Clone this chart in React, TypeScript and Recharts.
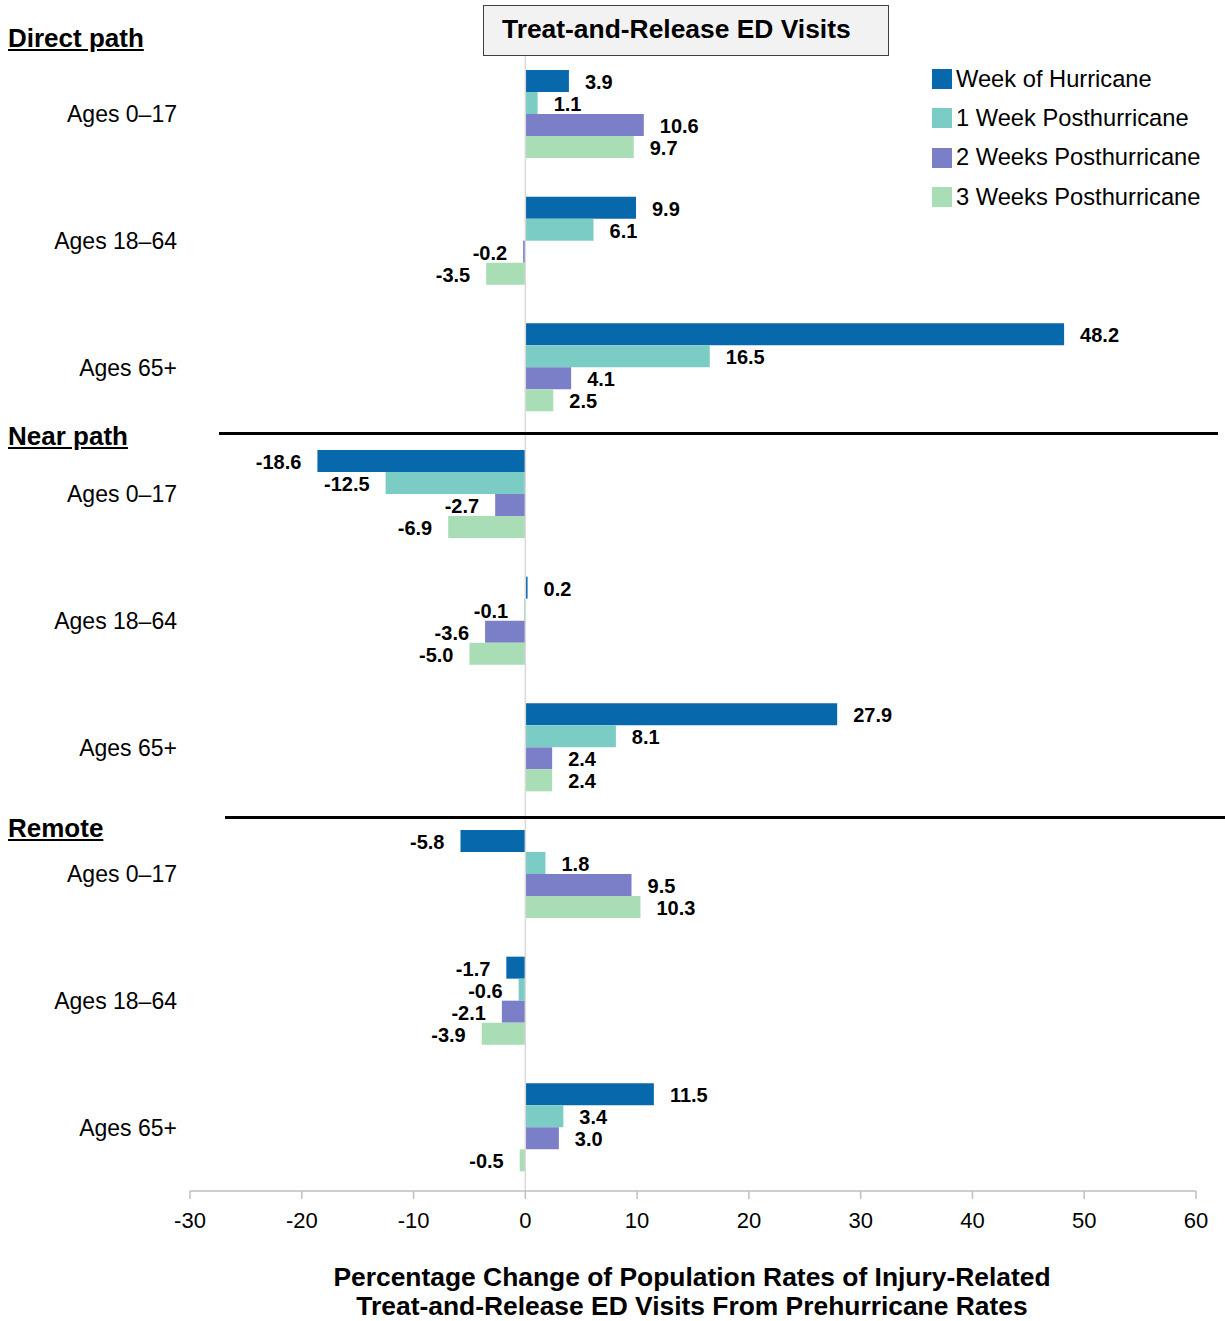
import React from "react";
import {
  BarChart,
  Bar,
  XAxis,
  YAxis,
  ReferenceLine,
  LabelList,
} from "recharts";

const FONT = "'Liberation Sans', Arial, sans-serif";

const groups = ["Direct path", "Near path", "Remote"];
const ages = ["Ages 0\u201317", "Ages 18\u201364", "Ages 65+"];
const seriesNames = [
  "Week of Hurricane",
  "1 Week Posthurricane",
  "2 Weeks Posthurricane",
  "3 Weeks Posthurricane",
];
const seriesColors = ["#0868AC", "#7BCCC4", "#7B7FC7", "#A8DDB5"];
const xTicks = [-30, -20, -10, 0, 10, 20, 30, 40, 50, 60];

// values per category in order: Direct 0–17, 18–64, 65+, Near ..., Remote ...
const weekOf = [3.9, 9.9, 48.2, -18.6, 0.2, 27.9, -5.8, -1.7, 11.5];
const week1 = [1.1, 6.1, 16.5, -12.5, -0.1, 8.1, 1.8, -0.6, 3.4];
const week2 = [10.6, -0.2, 4.1, -2.7, -3.6, 2.4, 9.5, -2.1, 3.0];
const week3 = [9.7, -3.5, 2.5, -6.9, -5.0, 2.4, 10.3, -3.9, -0.5];

const seriesValues = [weekOf, week1, week2, week3];
const seriesKeys = ["s0", "s1", "s2", "s3"];

const data = groups.flatMap((g, gi) =>
  ages.map((a, ai) => {
    const idx = gi * 3 + ai;
    const row: any = { id: `${g}|${a}`, age: a };
    seriesKeys.forEach((k, si) => {
      row[k] = seriesValues[si][idx];
    });
    return row;
  })
);

const renderValueLabel = (props: any) => {
  const { x, y, width, height, value } = props;
  if (value === undefined || value === null) return null;
  const v = Number(value);
  const left = Math.min(x, x + width);
  const right = Math.max(x, x + width);
  const cy = y + height / 2;
  const pos = v >= 0;
  return (
    <text
      x={pos ? right + 16 : left - 16}
      y={cy + 1}
      textAnchor={pos ? "start" : "end"}
      dominantBaseline="central"
      fontFamily={FONT}
      fontWeight="bold"
      fontSize={20}
      fill="#000"
    >
      {v.toFixed(1)}
    </text>
  );
};

const YTick = (props: any) => {
  const { y, payload } = props;
  const label = String(payload.value).split("|")[1];
  return (
    <text
      x={177}
      y={y}
      textAnchor="end"
      dominantBaseline="central"
      fontFamily={FONT}
      fontSize={23}
      fill="#000"
    >
      {label}
    </text>
  );
};

const headerStyle: React.CSSProperties = {
  position: "absolute",
  left: 8,
  fontFamily: FONT,
  fontWeight: "bold",
  fontSize: 26,
  lineHeight: "26px",
  textDecoration: "underline",
  color: "#000",
  whiteSpace: "nowrap",
};

export default function App() {
  return (
    <div
      style={{
        position: "absolute",
        left: 0,
        top: 0,
        width: 1225,
        height: 1321,
        background: "#fff",
        fontFamily: FONT,
      }}
    >
      <BarChart
        width={1225}
        height={1321}
        data={data}
        layout="vertical"
        margin={{ top: 51, right: 29, bottom: 80, left: 0 }}
        barSize={22}
        barGap={0}
      >
        <XAxis
          type="number"
          domain={[-30, 60]}
          ticks={xTicks}
          interval={0}
          height={50}
          stroke="#BFBFBF"
          axisLine={{ stroke: "#BFBFBF", strokeWidth: 1.5 }}
          tickLine={{ stroke: "#BFBFBF", strokeWidth: 1.5 }}
          tickSize={8}
          tickMargin={13}
          tick={{ fill: "#000", fontSize: 22, fontFamily: FONT }}
          allowDataOverflow
        />
        <YAxis
          type="category"
          dataKey="id"
          width={190}
          axisLine={false}
          tickLine={false}
          tick={<YTick />}
          interval={0}
        />
        <ReferenceLine x={0} stroke="#D9D9D9" strokeWidth={1.5} />
        {seriesKeys.map((k, i) => (
          <Bar
            key={k}
            dataKey={k}
            name={seriesNames[i]}
            fill={seriesColors[i]}
            isAnimationActive={false}
          >
            <LabelList dataKey={k} content={renderValueLabel} />
          </Bar>
        ))}
      </BarChart>

      {/* Legend */}
      <div
        style={{
          position: "absolute",
          left: 932,
          top: 59.5,
          fontFamily: FONT,
          fontSize: 23.7,
          color: "#000",
        }}
      >
        {seriesNames.map((n, i) => (
          <div
            key={n}
            style={{ display: "flex", alignItems: "center", height: 39.3 }}
          >
            <div
              style={{
                width: 20,
                height: 20,
                background: seriesColors[i],
                marginRight: 4,
              }}
            />
            <span style={{ whiteSpace: "nowrap" }}>{n}</span>
          </div>
        ))}
      </div>

      {/* Title box */}
      <div
        style={{
          position: "absolute",
          left: 483,
          top: 5,
          width: 406,
          height: 51,
          background: "#F2F2F2",
          border: "1.5px solid #404040",
          boxSizing: "border-box",
          fontFamily: FONT,
          fontWeight: "bold",
          fontSize: 26.4,
          lineHeight: "47px",
          paddingLeft: 18,
          whiteSpace: "nowrap",
          color: "#000",
        }}
      >
        Treat-and-Release ED Visits
      </div>

      {/* Group headers */}
      <div style={{ ...headerStyle, top: 25 }}>{groups[0]}</div>
      <div style={{ ...headerStyle, top: 423 }}>{groups[1]}</div>
      <div style={{ ...headerStyle, top: 815 }}>{groups[2]}</div>

      {/* Separator lines */}
      <div
        style={{
          position: "absolute",
          left: 219,
          top: 432,
          width: 999,
          height: 3,
          background: "#000",
        }}
      />
      <div
        style={{
          position: "absolute",
          left: 225,
          top: 816,
          width: 1000,
          height: 3,
          background: "#000",
        }}
      />

      {/* X-axis title */}
      <div
        style={{
          position: "absolute",
          left: 192,
          top: 1263,
          width: 1000,
          textAlign: "center",
          fontFamily: FONT,
          fontWeight: "bold",
          fontSize: 26.4,
          lineHeight: "29px",
          color: "#000",
        }}
      >
        Percentage Change of Population Rates of Injury-Related
        <br />
        Treat-and-Release ED Visits From Prehurricane Rates
      </div>
    </div>
  );
}
